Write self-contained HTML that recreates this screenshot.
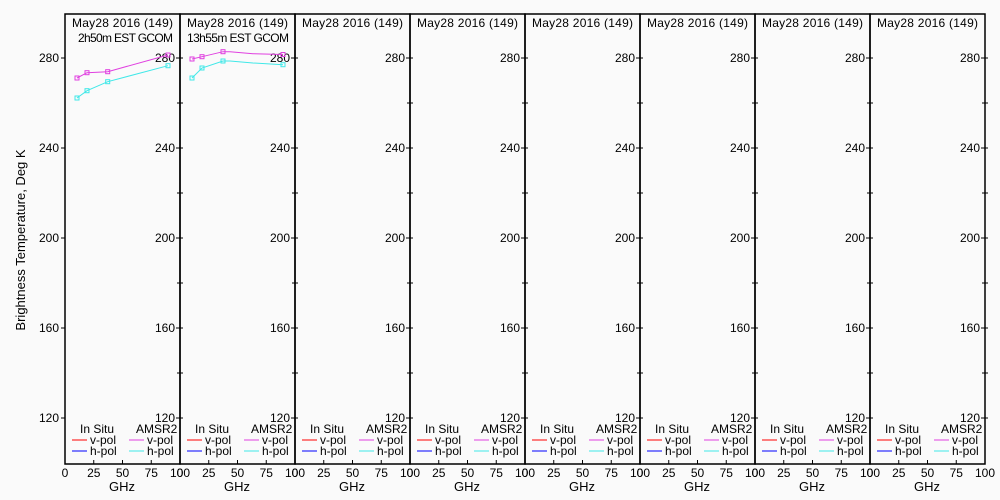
<!DOCTYPE html>
<html><head><meta charset="utf-8"><style>
html,body{margin:0;padding:0;background:#fafafa;}
svg{display:block;font-family:"Liberation Sans",sans-serif;font-size:12px;}
</style></head><body>
<svg id="s" width="1000" height="500" xmlns="http://www.w3.org/2000/svg">
<rect width="1000" height="500" fill="#fafafa"/>
<text x="25" y="240" transform="rotate(-90 25 240)" text-anchor="middle" font-size="13">Brightness Temperature, Deg K</text>
</svg>
<script>
(function(){
var s=document.getElementById('s'),h='';
var T=14,B=464;
function Y(k){return 463-(k-100)*2.25;}
for(var p=0;p<8;p++){
 var x0=65+p*115,x1=x0+115;
 h+='<rect x="'+x0+'" y="'+T+'" width="115" height="'+(B-T)+'" fill="none" stroke="#000" stroke-width="1.5"/>';
 h+='<text x="'+(x0+7)+'" y="27" textLength="101">May28 2016 (149)</text>';
 for(var k=120;k<=280;k+=20){
  var y=Y(k);
  if(k%40==0){
   h+='<line x1="'+(x1-4)+'" x2="'+(x1+3)+'" y1="'+y+'" y2="'+y+'" stroke="#000"/>';
   h+='<text x="'+(x1-5)+'" y="'+(y+4)+'" text-anchor="end">'+k+'</text>';
   if(p==0){h+='<line x1="'+(x0-4)+'" x2="'+x0+'" y1="'+y+'" y2="'+y+'" stroke="#000"/><text x="'+(x0-6)+'" y="'+(y+4)+'" text-anchor="end">'+k+'</text>';}
  }else{
   h+='<line x1="'+(x1-3)+'" x2="'+(x1+3)+'" y1="'+y+'" y2="'+y+'" stroke="#000"/>';
  }
 }
 for(var g=0;g<=100;g+=25){
  var xx=x0+g*1.15;
  h+='<line x1="'+xx+'" x2="'+xx+'" y1="'+(B-4)+'" y2="'+B+'" stroke="#000"/>';
  h+='<text x="'+xx+'" y="477" text-anchor="middle">'+g+'</text>';
 }
 h+='<text x="'+(x0+57)+'" y="491" text-anchor="middle" font-size="13">GHz</text>';
 h+='<text x="'+(x0+15)+'" y="433">In Situ</text><text x="'+(x0+71)+'" y="433">AMSR2</text>';
 var L=[['red',x0+7,444,'v-pol'],['blue',x0+7,455,'h-pol'],['#e040e0',x0+64,444,'v-pol'],['#40e8e8',x0+64,455,'h-pol']];
 L.forEach(function(l){h+='<line x1="'+l[1]+'" x2="'+(l[1]+15)+'" y1="'+(l[2]-4)+'" y2="'+(l[2]-4)+'" stroke="'+l[0]+'"/><text x="'+(l[1]+18)+'" y="'+l[2]+'">'+l[3]+'</text>';});
}
h+='<text x="78" y="42" textLength="95">2h50m EST GCOM</text><text x="187" y="42" textLength="102">13h55m EST GCOM</text>';
function line(pts,c,mk){
 h+='<polyline points="'+pts.map(function(q){return q.join(',')}).join(' ')+'" fill="none" stroke="'+c+'"/>';
 mk.forEach(function(i){var q=pts[i];h+='<rect x="'+(q[0]-2)+'" y="'+(q[1]-2)+'" width="4" height="4" fill="none" stroke="'+c+'"/>';});
}
line([[77,78],[87,72.7],[107.7,71.7],[168,55]],'#e040e0',[0,1,2,3]);
line([[77,98],[87,90.7],[107.7,81.7],[168,65.7]],'#40e8e8',[0,1,2,3]);
line([[192,59],[202,56.7],[223,51.7],[230,51.7],[253,53.7],[283,54.5]],'#e040e0',[0,1,2,5]);
line([[192,78],[202,68],[223,61],[230,61],[253,63],[283,64.7]],'#40e8e8',[0,1,2,5]);
s.insertAdjacentHTML('beforeend',h);
})();
</script>
</body></html>
